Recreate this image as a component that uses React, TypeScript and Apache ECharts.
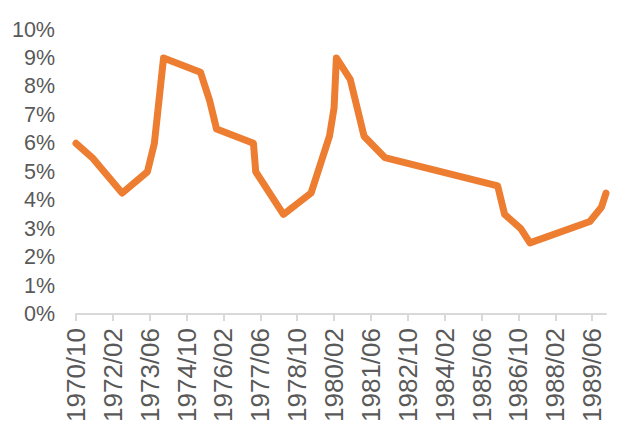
import React, { useEffect, useRef } from "react";
import * as echarts from "echarts";

// Month categories from 1970/10 to 1989/12
const START_YEAR = 1970;
const START_MONTH = 10;
const END_YEAR = 1989;
const END_MONTH = 12;

const months: string[] = [];
for (let y = START_YEAR; y <= END_YEAR; y++) {
  const m0 = y === START_YEAR ? START_MONTH : 1;
  const m1 = y === END_YEAR ? END_MONTH : 12;
  for (let m = m0; m <= m1; m++) {
    months.push(`${y}/${String(m).padStart(2, "0")}`);
  }
}

const LABEL_STEP = 16;

// Change points of the rate (month, %)
const pointMonths = [
  "1970/10", "1971/05", "1972/06", "1973/05", "1973/08", "1973/12",
  "1975/04", "1975/08", "1975/11", "1977/03", "1977/04", "1978/04",
  "1979/04", "1979/08", "1979/12", "1980/02", "1980/03", "1980/09",
  "1981/03", "1981/12", "1986/01", "1986/04", "1986/11", "1987/03",
  "1989/05", "1989/10", "1989/12",
];
const pointValues = [
  6.0, 5.5, 4.25, 5.0, 6.0, 9.0,
  8.5, 7.5, 6.5, 6.0, 5.0, 3.5,
  4.25, 5.25, 6.25, 7.25, 9.0, 8.25,
  6.25, 5.5, 4.5, 3.5, 3.0, 2.5,
  3.25, 3.75, 4.25,
];

const yTicks = { min: 0, max: 10, interval: 1 };

const FONT = "'Liberation Sans', Arial, sans-serif";

export default function App() {
  const ref = useRef<HTMLDivElement>(null);
  useEffect(() => {
    if (!ref.current) return;
    const chart = echarts.init(ref.current, undefined, { renderer: "svg" });
    const every = (i: number) => i % LABEL_STEP === 0;
    chart.setOption({
      animation: false,
      backgroundColor: "#ffffff",
      grid: { left: 76, right: 34, top: 29.5, bottom: 126, containLabel: false, outerBoundsMode: "none" },
      xAxis: {
        type: "category",
        data: months,
        boundaryGap: false,
        axisLine: { show: true, lineStyle: { color: "#d9d9d9", width: 2 } },
        axisTick: {
          show: true,
          interval: every,
          length: 7,
          lineStyle: { color: "#d9d9d9", width: 2 },
        },
        axisLabel: {
          interval: every,
          rotate: 90,
          margin: 14,
          fontSize: 26,
          color: "#595959",
          fontFamily: FONT,
          hideOverlap: false,
        },
        splitLine: { show: false },
      },
      yAxis: {
        type: "value",
        min: yTicks.min,
        max: yTicks.max,
        interval: yTicks.interval,
        axisLine: { show: false },
        axisTick: { show: false },
        splitLine: { show: false },
        axisLabel: {
          formatter: "{value}%",
          fontSize: 21.5,
          color: "#595959",
          fontFamily: FONT,
          margin: 21,
        },
      },
      series: [
        {
          type: "line",
          data: pointMonths.map((m, i) => [m, pointValues[i]]),
          showSymbol: false,
          symbol: "none",
          lineStyle: { color: "#ED7D31", width: 7, join: "round", cap: "round" },
          itemStyle: { color: "#ED7D31" },
        },
      ],
    });
    return () => chart.dispose();
  }, []);
  return (
    <div
      ref={ref}
      style={{ position: "fixed", left: 0, top: 0, width: 640, height: 440, background: "#fff" }}
    />
  );
}
